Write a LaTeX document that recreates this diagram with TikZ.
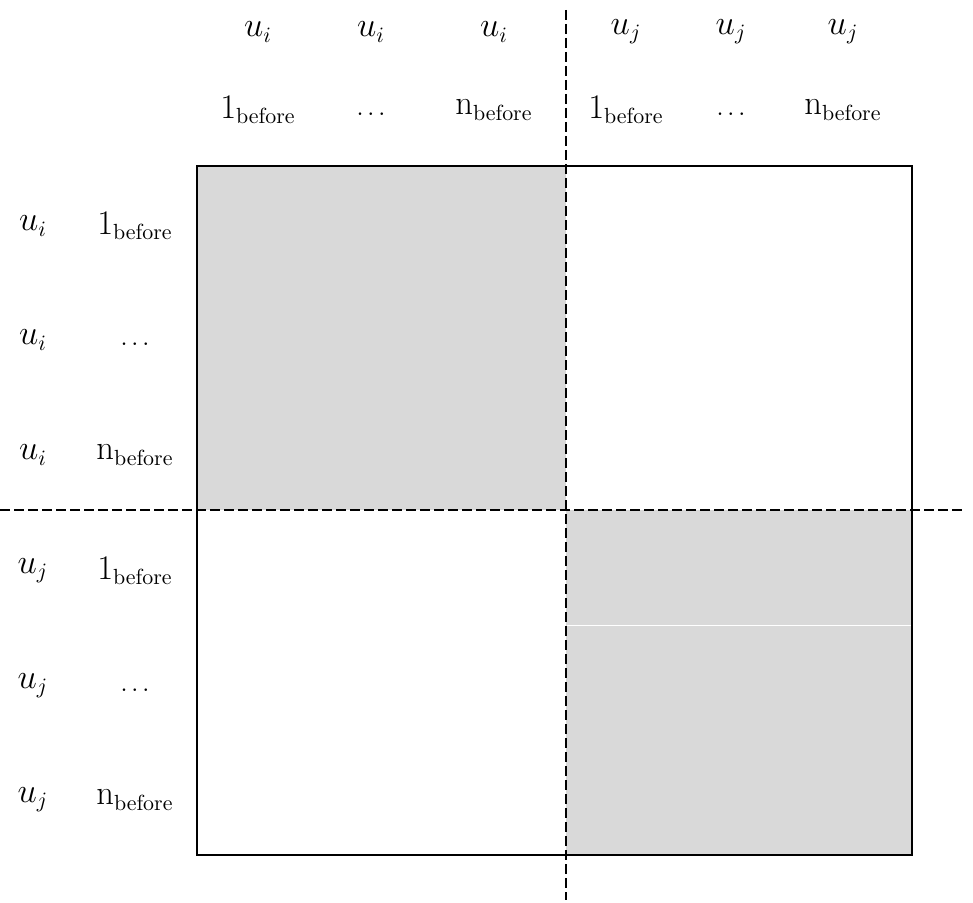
\documentclass[tikz,border=0pt]{standalone}
\usepackage{amsmath}
\newcommand{\tightdots}{.\kern1.5pt.\kern1.5pt.}
\begin{document}
\begin{tikzpicture}[x=0.5pt,y=-0.5pt,
  lbl/.style={inner sep=0pt,font=\fontsize{16}{19}\selectfont},
  block/.style={fill=blockgrey,draw=none},
  frame/.style={draw=black,line width=1pt},
  divider/.style={draw=black,line width=1pt,dash pattern=on 5pt off 2pt}]
\definecolor{blockgrey}{HTML}{D9D9D9}
\useasboundingbox (0,0) rectangle (973,903);

% shaded diagonal blocks
\fill[block] (197,166) rectangle (566,510);
\fill[block] (566,510) rectangle (912,855);
\draw[white,line width=0.5pt] (567,625) -- (911,625);

% outer frame
\draw[frame] (197,166) rectangle (912,855);

% dividing lines between the u_i and u_j parts
\coordinate (vtop) at (566,10);
\coordinate (vbot) at (566,900);
\coordinate (hleft) at (0,510);
\coordinate (hright) at (963,510);
\draw[divider] (vtop) -- (vbot);
\draw[divider] (hleft) -- (hright);

% column headers
\node[lbl] (cu1) at (258,32) {$u_i$};
\node[lbl] (cu2) at (371,32) {$u_i$};
\node[lbl] (cu3) at (494,32) {$u_i$};
\node[lbl] (cu4) at (626,32) {$u_j$};
\node[lbl] (cu5) at (731,32) {$u_j$};
\node[lbl] (cu6) at (843,32) {$u_j$};
\node[lbl] (cn1) at (258,110) {$1_{\mathrm{before}}$};
\node[lbl] (cn2) at (371,114) {\tightdots};
\node[lbl] (cn3) at (494,110) {$\mathrm{n}_{\mathrm{before}}$};
\node[lbl] (cn4) at (626,110) {$1_{\mathrm{before}}$};
\node[lbl] (cn5) at (731,114) {\tightdots};
\node[lbl] (cn6) at (843,110) {$\mathrm{n}_{\mathrm{before}}$};

% row headers
\node[lbl] (ru1) at (33,226) {$u_i$};
\node[lbl] (ru2) at (33,340) {$u_i$};
\node[lbl] (ru3) at (33,455) {$u_i$};
\node[lbl] (ru4) at (33,571) {$u_j$};
\node[lbl] (ru5) at (33,686) {$u_j$};
\node[lbl] (ru6) at (33,800) {$u_j$};
\node[lbl] (rn1) at (135,226) {$1_{\mathrm{before}}$};
\node[lbl] (rn2) at (135,344) {\tightdots};
\node[lbl] (rn3) at (135,455) {$\mathrm{n}_{\mathrm{before}}$};
\node[lbl] (rn4) at (135,571) {$1_{\mathrm{before}}$};
\node[lbl] (rn5) at (135,690) {\tightdots};
\node[lbl] (rn6) at (135,800) {$\mathrm{n}_{\mathrm{before}}$};
\end{tikzpicture}
\end{document}
